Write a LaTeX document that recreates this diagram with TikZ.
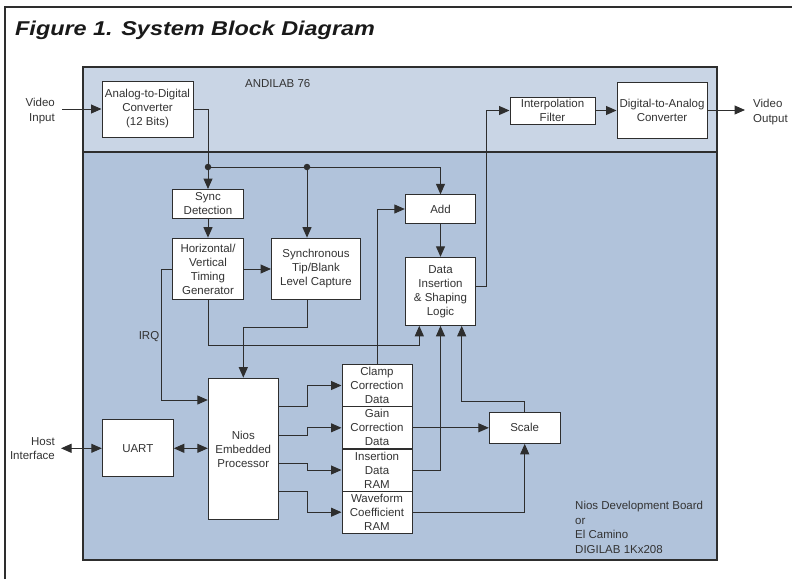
\documentclass[tikz,border=0pt]{standalone}
\usepackage{fontspec}
\setmainfont{Liberation Sans}
\usetikzlibrary{arrows.meta}
\definecolor{toppanel}{HTML}{C9D5E5}
\definecolor{botpanel}{HTML}{B1C3DB}
\definecolor{ink}{HTML}{2E2E2E}
\definecolor{txt}{HTML}{333333}
\begin{document}
\begin{tikzpicture}[x=1pt,y=-1pt,
  blk/.style={draw=ink, line width=1pt, fill=white, inner sep=0pt, align=center,
    font=\fontsize{11.5}{14}\selectfont, text=txt},
  conn/.style={draw=ink, line width=1pt},
  arr/.style={conn, -{Triangle[length=10.5pt,width=9pt]}},
  darr/.style={conn, {Triangle[length=10.5pt,width=9pt]}-{Triangle[length=10.5pt,width=9pt]}},
  lbl/.style={font=\fontsize{11.5}{14.5}\selectfont, text=txt, inner sep=0pt},
  dotn/.style={circle, fill=ink, inner sep=0pt, minimum size=6.5pt}]
\useasboundingbox (0,0) rectangle (792,579);

% outer frame
\draw[ink, line width=1.5pt] (5,579) -- (5,7) -- (792,7);
% title
\node[anchor=base west, inner sep=0pt, text=black!90,
  font=\fontsize{20}{24}\selectfont\bfseries\itshape] (title) at (15,35)
  {\scalebox{1.17}[1]{Figure 1. System Block Diagram}};

% panels
\fill[toppanel] (83,67) rectangle (717,152);
\fill[botpanel] (83,152) rectangle (717,560);
\draw[ink, line width=1.3pt] (83,67) rectangle (717,560);
\draw[ink, line width=1.3pt] (83,152) -- (717,152);

\node[lbl, anchor=west] (andilab) at (245,84) {ANDILAB 76};
\node[lbl, anchor=north west, align=left] (board) at (575,501)
  {Nios Development Board\\or\\El Camino\\DIGILAB 1Kx208};

% blocks
\node[blk, minimum width=91pt, minimum height=56pt] (adc) at (147.5,109)
  {Analog-to-Digital\\Converter\\(12 Bits)};
\node[blk, minimum width=85pt, minimum height=27pt] (interp) at (552.5,110.5)
  {Interpolation\\Filter};
\node[blk, minimum width=90pt, minimum height=56pt] (dac) at (662,110)
  {Digital-to-Analog\\Converter};
\node[blk, minimum width=70.6pt, minimum height=29pt] (sync) at (208,204)
  {Sync\\Detection};
\node[blk, minimum width=70.6pt, minimum height=61.7pt] (hv) at (208,269)
  {Horizontal/\\Vertical\\Timing\\Generator};
\node[blk, minimum width=89pt, minimum height=61.7pt] (tip) at (316,269)
  {Synchronous\\Tip/Blank\\Level Capture};
\node[blk, minimum width=70.4pt, minimum height=28.3pt] (add) at (440.5,209) {Add};
\node[blk, minimum width=70.4pt, minimum height=68pt] (di) at (440.5,291.3)
  {Data\\Insertion\\\& Shaping\\Logic};
\node[blk, minimum width=70pt, minimum height=141.7pt] (nios) at (243.3,449)
  {Nios\\Embedded\\Processor};
\node[blk, minimum width=71pt, minimum height=56.7pt] (uart) at (137.8,448.3) {UART};
\node[blk, minimum width=70pt, minimum height=42.4pt] (clamp) at (377,385.5)
  {Clamp\\Correction\\Data};
\node[blk, minimum width=70pt, minimum height=42.3pt] (gain) at (377,427.8)
  {Gain\\Correction\\Data};
\node[blk, minimum width=70pt, minimum height=42pt] (ins) at (377,470)
  {Insertion\\Data\\RAM};
\node[blk, minimum width=70pt, minimum height=42.3pt] (wave) at (377,512.2)
  {Waveform\\Coefficient\\RAM};
\node[blk, minimum width=70.7pt, minimum height=31pt] (scale) at (524.7,427.8) {Scale};

% outer labels
\node[lbl, anchor=north east, align=right] (vin) at (55,98) {Video\\Input};
\node[lbl, anchor=north west, align=left] (vout) at (753,99) {Video\\Output};
\node[lbl, anchor=north east, align=right] (host) at (55,437) {Host\\Interface};
\node[lbl] (irq) at (149,337) {IRQ};

\coordinate (vinend) at (62,109);
\coordinate (voutend) at (745,110);
\coordinate (hostend) at (61,448.3);

% junction dots
\node[dotn] (d1) at (208,167) {};
\node[dotn] (d2) at (307,167) {};

% connectors
\draw[arr] (vinend) -- (adc.west);
\draw[arr] (adc.east) -| (sync.north);
\draw[arr] (d1.center) -| (add.north);
\draw[arr] (d2.center) -- (d2.center |- tip.north);
\draw[arr] (sync.south) -- (hv.north);
\draw[arr] (hv.east) -- (tip.west);
\draw[arr] (hv.west) -- ++(-10.7,0) |- ([yshift=49pt]nios.west);
\draw[arr] (hv.south) -- ++(0,45) -| ([xshift=-21.2pt]di.south);
\draw[arr] ([xshift=-9pt]tip.south) -- ++(0,27) -| (nios.north);
\draw[arr] (clamp.north) |- (add.west);
\draw[arr] (add.south) -- (di.north);
\draw[arr] ([yshift=5.3pt]di.east) -- ++(10.3,0) |- (interp.west);
\draw[arr] (interp.east) -- (interp.east -| dac.west);
\draw[arr] (dac.east) -- (voutend);
\draw[darr] (hostend) -- (uart.west);
\draw[darr] (uart.east) -- (uart.east -| nios.west);
\draw[arr] ([yshift=42.3pt]nios.east) -- ++(28.4,0) |- (clamp.west);
\draw[arr] ([yshift=14pt]nios.east) -- ++(28.4,0) |- (gain.west);
\draw[arr] ([yshift=-14.3pt]nios.east) -- ++(28.4,0) |- (ins.west);
\draw[arr] ([yshift=-42.7pt]nios.east) -- ++(28.4,0) |- (wave.west);
\draw[arr] (gain.east) -- (scale.west);
\draw[arr] (scale.north) -- ++(0,-10.6) -| ([xshift=21.2pt]di.south);
\draw[arr] (ins.east) -| (di.south);
\draw[arr] (wave.east) -| (scale.south);
\end{tikzpicture}
\end{document}
